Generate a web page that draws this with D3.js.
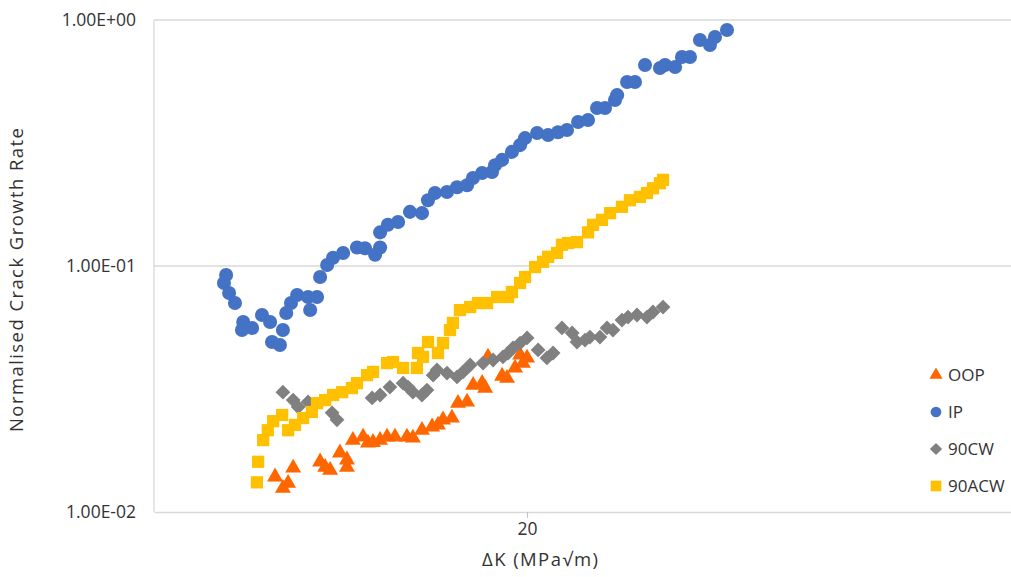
<!DOCTYPE html>
<html><head><meta charset="utf-8">
<script src="https://cdn.jsdelivr.net/npm/d3@7"></script>
<style>
body{margin:0;background:#fff}
svg{display:block}
text{font-family:"Open Sans",sans-serif;fill:#333333}
</style>
</head><body>
<svg id="chart" width="1011" height="577"></svg>
<script>
// ---- data ----
const seriesNames = ["OOP", "IP", "90CW", "90ACW"];
const seriesColors = ["#FF6600", "#4472C4", "#808080", "#FFC000"];

const oopK = [10.77,10.98,11.12,11.26,12.03,12.18,12.33,12.63,12.85,12.85,13.04,13.37,13.53,13.70,13.94,14.18,14.46,14.89,15.11,15.45,15.84,16.07,16.27,16.63,16.88,17.26,17.52,17.91,18.04,18.17,18.81,19.04,19.42,19.66,19.80,20.00];
const oopRate = [0.0139,0.0125,0.0131,0.0151,0.0160,0.0152,0.0148,0.0174,0.0163,0.0152,0.0196,0.0202,0.0191,0.0192,0.0196,0.0202,0.0202,0.0202,0.0200,0.0215,0.0222,0.0226,0.0237,0.0241,0.0277,0.0280,0.0328,0.0334,0.0319,0.0427,0.0357,0.0350,0.0385,0.0435,0.0403,0.0423];

const ipK = [9.55,9.50,9.62,9.76,9.96,9.93,10.18,10.43,10.64,10.69,10.90,10.98,11.07,11.20,11.37,11.68,11.74,11.94,12.03,12.24,12.42,12.73,13.17,13.43,13.77,13.94,13.94,14.21,14.57,15.00,15.45,15.68,15.95,16.43,16.84,17.26,17.51,17.91,18.35,18.49,18.81,19.27,19.66,19.90,20.50,21.06,21.58,22.06,22.67,23.23,23.75,24.22,24.82,24.95,25.57,26.07,26.72,27.72,28.07,28.77,29.26,29.84,30.58,31.34,31.73,32.68];
const ipRate = [0.0919,0.0853,0.0777,0.0707,0.0592,0.0549,0.0560,0.0632,0.0592,0.0491,0.0477,0.0549,0.0644,0.0707,0.0762,0.0748,0.0662,0.0748,0.0902,0.101,0.108,0.113,0.119,0.118,0.111,0.119,0.137,0.147,0.151,0.166,0.164,0.185,0.198,0.200,0.209,0.213,0.228,0.239,0.241,0.257,0.270,0.291,0.310,0.331,0.347,0.341,0.350,0.357,0.385,0.392,0.439,0.439,0.473,0.495,0.560,0.560,0.656,0.638,0.656,0.644,0.707,0.707,0.829,0.791,0.853,0.911];

const cwK = [10.98,11.26,11.40,11.68,12.39,12.54,13.67,13.94,14.28,14.75,14.93,15.11,15.45,15.64,15.88,16.03,16.43,16.84,17.09,17.39,17.95,18.40,18.85,19.09,19.32,19.66,20.00,20.55,21.00,21.32,21.79,22.34,22.61,23.06,23.34,23.92,24.34,24.70,25.25,25.63,26.20,26.85,27.25,27.93];
const cwRate = [0.0307,0.0285,0.0267,0.0280,0.0253,0.0237,0.0291,0.0299,0.0322,0.0334,0.0322,0.0307,0.0299,0.0313,0.0360,0.0378,0.0367,0.0354,0.0371,0.0396,0.0403,0.0415,0.0427,0.0443,0.0464,0.0486,0.0510,0.0456,0.0423,0.0443,0.0560,0.0534,0.0491,0.0500,0.0514,0.0514,0.0560,0.0549,0.0603,0.0620,0.0632,0.0620,0.0650,0.0681];

const acwK = [10.30,10.33,10.46,10.58,10.72,10.96,11.12,11.31,11.54,11.79,11.94,12.18,12.42,12.70,13.01,13.17,13.50,13.70,14.18,14.39,14.75,15.26,15.30,15.49,15.68,16.07,16.27,16.55,16.67,16.96,17.39,17.73,18.13,18.58,19.09,19.27,19.66,19.90,20.40,20.80,21.06,21.53,21.79,22.12,22.61,23.23,23.52,24.04,24.52,25.25,25.75,26.39,26.85,27.25,27.72,27.93];
const acwRate = [0.0132,0.0160,0.0196,0.0215,0.0234,0.0248,0.0215,0.0226,0.0241,0.0255,0.0277,0.0285,0.0299,0.0307,0.0319,0.0334,0.0360,0.0371,0.0403,0.0407,0.0385,0.0385,0.0443,0.0427,0.0491,0.0443,0.0486,0.0549,0.0587,0.0662,0.0681,0.0707,0.0707,0.0748,0.0748,0.0784,0.0853,0.0902,0.0990,0.104,0.109,0.113,0.122,0.124,0.125,0.137,0.147,0.154,0.164,0.174,0.185,0.191,0.198,0.207,0.217,0.224];

const xTickValues = [20];
const xTickLabels = ["20"];
const yTickValues = [0.01, 0.1, 1];
const yTickLabels = ["1.00E-02", "1.00E-01", "1.00E+00"];
const xTitle = "ΔK (MPa√m)";
const yTitle = "Normalised Crack Growth Rate";

// ---- chart ----
const svg = d3.select("#chart");
const L = 154, R = 1011, T = 20, B = 512;
const x = d3.scaleLog().domain([8, 65.65]).range([L, R]);
const y = d3.scaleLog().domain([0.01, 1]).range([B, T]);

// gridlines
svg.append("g").selectAll("line").data(yTickValues.slice(1)).join("line")
  .attr("x1", L).attr("x2", R).attr("y1", d => y(d)).attr("y2", d => y(d))
  .attr("stroke", "#d9d9d9").attr("stroke-width", 1.3);
// left axis line
svg.append("line").attr("x1", L).attr("x2", L).attr("y1", T).attr("y2", B)
  .attr("stroke", "#d9d9d9").attr("stroke-width", 1.3);

// x axis
const xAxis = svg.append("g").attr("transform", `translate(0,${B})`)
  .call(d3.axisBottom(x).tickValues(xTickValues)
    .tickFormat((d, i) => xTickLabels[i]).tickSize(6).tickSizeOuter(0).tickPadding(5));
xAxis.select(".domain").attr("stroke", "#d9d9d9").attr("stroke-width", 1.3);
xAxis.selectAll(".tick line").attr("stroke", "#bfbfbf");
xAxis.selectAll(".tick text").attr("font-size", 17.5).attr("fill", "#333333")
  .attr("font-family", "Open Sans");

// y axis
const yAxis = svg.append("g").attr("transform", `translate(${L},0)`)
  .call(d3.axisLeft(y).tickValues(yTickValues)
    .tickFormat((d, i) => yTickLabels[i]).tickSize(0).tickPadding(18));
yAxis.select(".domain").remove();
yAxis.selectAll(".tick text").attr("font-size", 17.5).attr("fill", "#333333")
  .attr("font-family", "Open Sans");

// titles
svg.append("text").attr("x", 540).attr("y", 566).attr("text-anchor", "middle")
  .attr("font-size", 18.5).attr("textLength", 116).attr("lengthAdjust", "spacing").text(xTitle);
svg.append("text").attr("transform", "translate(23,280) rotate(-90)")
  .attr("text-anchor", "middle").attr("font-size", 18.5)
  .attr("textLength", 304).attr("lengthAdjust", "spacing").text(yTitle);

// series
const series = [
  {k: oopK, r: oopRate, type: d3.symbolTriangle, size: 110, rot: 0},
  {k: ipK, r: ipRate, type: d3.symbolCircle, size: 155, rot: 0},
  {k: cwK, r: cwRate, type: d3.symbolSquare, size: 110, rot: 45},
  {k: acwK, r: acwRate, type: d3.symbolSquare, size: 150, rot: 0}
];
series.forEach((s, si) => {
  const pts = s.k.map((k, i) => ({k, r: s.r[i]}));
  svg.append("g").selectAll("path").data(pts).join("path")
    .attr("d", d3.symbol().type(s.type).size(s.size))
    .attr("transform", d => `translate(${x(d.k)},${y(d.r)}) rotate(${s.rot})`)
    .attr("fill", seriesColors[si]);
});

// legend
const legSizes = [75, 90, 75, 115];
const legY = [375, 412, 449, 486];
const leg = svg.append("g");
seriesNames.forEach((n, i) => {
  leg.append("path").attr("d", d3.symbol().type(series[i].type).size(legSizes[i]))
    .attr("transform", `translate(936,${legY[i]}) rotate(${series[i].rot})`)
    .attr("fill", seriesColors[i]);
  leg.append("text").attr("x", 948).attr("y", legY[i]).attr("dy", "0.35em")
    .attr("font-size", 17).text(n);
});
</script>
</body></html>
